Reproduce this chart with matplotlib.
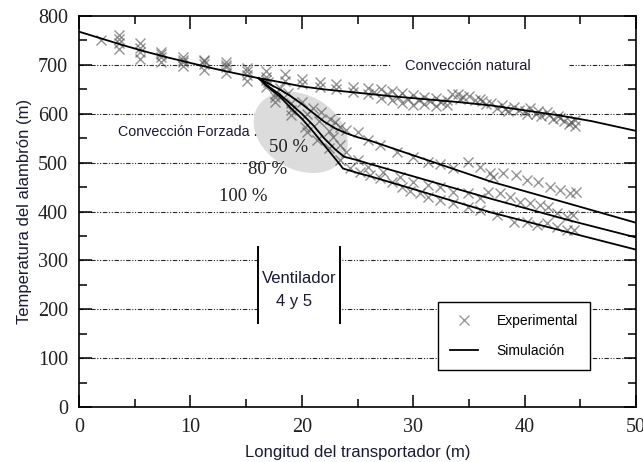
import matplotlib
matplotlib.use("Agg")
import matplotlib.pyplot as plt
from matplotlib.patches import Ellipse, Rectangle
from matplotlib.lines import Line2D
from matplotlib import transforms

# Simulated temperature profiles (m, temperature)
nat_x = [0, 2, 4, 6, 8, 10, 12, 14, 16.1, 18, 20, 22, 25, 28, 31, 34, 37, 40, 43, 46, 50]
nat_T = [768, 754, 740, 727, 715, 704, 693, 683, 673, 665, 656, 650, 643, 636, 630, 624, 617, 607, 597, 585, 565]

f50_x = [16.1, 17, 18, 19, 20, 21, 22, 23, 24, 25, 26, 30, 37, 44, 50]
f50_T = [673, 662, 650, 636, 620, 602, 584, 570, 560, 552, 546, 515, 461, 416, 377]

f80_x = [16.1, 17, 18, 19, 20, 21, 22, 23, 23.8, 25, 26, 30, 37, 44, 50]
f80_T = [673, 656, 640, 620, 600, 577, 550, 527, 512, 505, 498, 472, 426, 382, 347]

f100_x = [16.1, 17, 18, 19, 20, 21, 22, 23, 23.7, 25, 26, 30, 37, 44, 50]
f100_T = [673, 654, 636, 612, 590, 564, 536, 508, 488, 479, 473, 446, 398, 357, 322]

# Measured points
exp_nat_x = [2.0, 3.6, 3.6, 3.6, 3.6, 5.5, 5.5, 5.5, 5.5, 7.4, 7.4, 7.4, 7.4, 9.3, 9.3, 9.3, 9.3,
             11.2, 11.2, 11.2, 11.2, 13.2, 13.2, 13.2, 13.2, 15.1, 15.1, 15.1, 15.1, 16.8, 16.8,
             16.8, 18.5, 18.5, 20.0, 20.0, 21.6, 21.6, 23.1, 23.1, 24.6, 24.6, 25.9, 25.9, 26.5,
             27.1, 27.1, 27.6, 28.1, 28.1, 28.6, 29.0, 29.0, 29.5, 30.0, 30.0, 30.5, 31.0, 31.0,
             31.5, 32.0, 32.0, 32.5, 33.0, 33.0, 33.5, 34.0, 34.2, 34.5, 35.0, 35.5, 36.0, 36.2,
             36.5, 37.0, 37.5, 38.0, 38.2, 38.5, 39.0, 39.5, 40.0, 40.2, 40.5, 41.0, 41.2, 41.5,
             42.0, 42.2, 42.5, 43.0, 43.2, 43.5, 44.0, 44.2, 44.5, 44.5]
exp_nat_T = [750, 761, 752, 745, 733, 744, 735, 727, 712, 727, 722, 717, 706, 716, 711, 706, 697,
             711, 707, 702, 690, 706, 700, 696, 684, 694, 688, 680, 668, 688, 676,
             670, 682, 668, 672, 660, 665, 655, 660, 650, 654, 644, 652, 640, 645,
             650, 632, 640, 646, 628, 635, 642, 622, 630, 638, 618, 628, 634, 620,
             626, 632, 615, 624, 628, 618, 640, 640, 630, 634, 636, 628, 630, 626,
             620, 622, 612, 618, 610, 605, 614, 608, 605, 600, 612, 600, 606, 596,
             604, 597, 590, 596, 592, 586, 580, 584, 588, 574]

exp50_x = [17.0, 18.0, 18.8, 20.0, 21.0, 21.7, 22.5, 23.0, 23.4, 24.0, 25.0, 25.9, 27.0, 28.5, 30.0,
           31.3, 32.4, 33.6, 34.9, 36.0, 36.9, 37.2, 38.1, 39.2, 40.2, 41.2, 42.3, 43.2, 44.1, 44.6]
exp50_T = [664, 652, 642, 625, 612, 603, 590, 583, 573, 566, 562, 546, 536, 522, 511,
           501, 498, 489, 501, 491, 478, 470, 478, 474, 464, 460, 450, 444, 438, 440]

exp80_x = [17.6, 19.0, 20.5, 21.5, 22.4, 22.8, 23.4, 24.0, 25.0, 25.9, 27.3, 28.8, 30.0, 31.3,
           32.4, 33.6, 34.9, 36.0, 36.7, 37.8, 38.7, 39.6, 40.5, 41.4, 42.1, 42.9, 43.8, 44.3]
exp80_T = [640, 622, 600, 585, 565, 552, 536, 522, 505, 491, 481, 470, 460, 454,
           450, 440, 438, 427, 440, 437, 430, 419, 417, 413, 409, 397, 389, 393]

exp100_x = [16.8, 17.6, 17.6, 19.0, 19.0, 20.3, 20.5, 21.4, 22.4, 23.4, 24.3, 25.2, 26.1, 27.0,
            28.1, 29.0, 29.7, 30.6, 31.3, 32.4, 33.6, 34.9, 36.0, 37.5, 39.0, 40.2, 41.1, 42.0,
            42.9, 43.8, 44.4]
exp100_T = [655, 634, 624, 607, 597, 573, 563, 546, 530, 505, 489, 481, 474, 468,
            461, 451, 443, 437, 430, 423, 417, 409, 403, 393, 378, 378, 372, 376,
            368, 362, 362]

serif = "Liberation Serif"
sans = "Liberation Sans"
txt_color = "#1a1a38"

fig = plt.figure(figsize=(6.43, 4.62), dpi=100)
ax = fig.add_axes([0.1229, 0.119, 0.8663, 0.8463])
ax.set_xlim(0, 50)
ax.set_ylim(0, 800)

# dash-dot-dot horizontal grid
for yv in range(100, 800, 100):
    ax.axhline(yv, color="0.15", lw=0.8, ls=(0, (4, 1.5, 1, 1.5, 1, 1.5)), zorder=1)

# shaded zone of the fans
ell = Ellipse((0, 0), 1.0, 0.74, angle=-30, facecolor="#dcdcdc", edgecolor="none",
              transform=fig.dpi_scale_trans + transforms.ScaledTranslation(19.9, 562, ax.transData),
              zorder=1.5)
ax.add_patch(ell)

# white backing for labels that cut the grid
ax.add_patch(Rectangle((27.9, 684), 16.0, 28, facecolor="white", edgecolor="none", zorder=1.6))
ax.add_patch(Rectangle((16.1, 172), 7.35, 155, facecolor="white", edgecolor="none", zorder=1.6))

mk = dict(marker="x", ls="none", color="0.3", alpha=0.6, ms=7, mew=1.0, zorder=2)
ax.plot(exp_nat_x, exp_nat_T, **mk)
ax.plot(exp50_x, exp50_T, **mk)
ax.plot(exp80_x, exp80_T, **mk)
ax.plot(exp100_x, exp100_T, **mk)

ln = dict(color="black", lw=1.3, zorder=3)
ax.plot(nat_x, nat_T, **ln)
ax.plot(f50_x, f50_T, **ln)
ax.plot(f80_x, f80_T, **ln)
ax.plot(f100_x, f100_T, **ln)

# fan markers
ax.plot([16.1, 16.1], [172, 327], color="black", lw=1.4, zorder=3)
ax.plot([23.45, 23.45], [172, 327], color="black", lw=1.4, zorder=3)

ax.text(34.9, 697, "Convección natural", family=sans, fontsize=10.5, color=txt_color,
        ha="center", va="center", zorder=4)
ax.text(3.5, 562, "Convección Forzada .", family=sans, fontsize=10.3, color=txt_color,
        ha="left", va="center", zorder=4)
ax.text(18.8, 532, "50 %", family=serif, fontsize=13.5, color="#202020", ha="center", va="center", zorder=4)
ax.text(16.9, 485, "80 %", family=serif, fontsize=13.5, color="#202020", ha="center", va="center", zorder=4)
ax.text(14.7, 431, "100 %", family=serif, fontsize=13.5, color="#202020", ha="center", va="center", zorder=4)
ax.text(19.8, 262, "Ventilador", family=sans, fontsize=12, color=txt_color, ha="center", va="center", zorder=4)
ax.text(19.3, 215, "4 y 5", family=sans, fontsize=12, color=txt_color, ha="center", va="center", zorder=4)

ax.set_xticks(range(0, 51, 10))
ax.set_xticks(range(5, 50, 10), minor=True)
ax.set_yticks(range(0, 801, 100))
ax.set_yticks(range(50, 800, 100), minor=True)
ax.tick_params(which="both", direction="in", top=True, right=True, width=1.1, colors="black")
ax.tick_params(which="major", length=9, pad=8)
ax.tick_params(which="minor", length=6)
for lab in ax.get_xticklabels() + ax.get_yticklabels():
    lab.set_family(serif)
    lab.set_fontsize(14.5)
    lab.set_color("#202020")
for sp in ax.spines.values():
    sp.set_linewidth(1.2)

ax.set_xlabel("Longitud del transportador (m)", family=sans, fontsize=12, color=txt_color, labelpad=6)
ax.set_ylabel("Temperatura del alambrón (m)", family=sans, fontsize=12, color=txt_color, labelpad=4)

handles = [Line2D([], [], marker="x", ls="none", color="0.6", ms=7, mew=1.0),
           Line2D([], [], color="black", lw=1.3)]
leg = ax.legend(handles, ["Experimental", "Simulación"], loc="upper left",
                bbox_to_anchor=(0.645, 0.269), borderaxespad=0, fancybox=False,
                framealpha=1, edgecolor="black", prop={"family": sans, "size": 10},
                borderpad=0.85, handlelength=2.0, handletextpad=1.35, labelspacing=1.2)
leg.get_frame().set_linewidth(1.0)
leg.set_zorder(5)

fig.savefig("out.png", dpi=100)
